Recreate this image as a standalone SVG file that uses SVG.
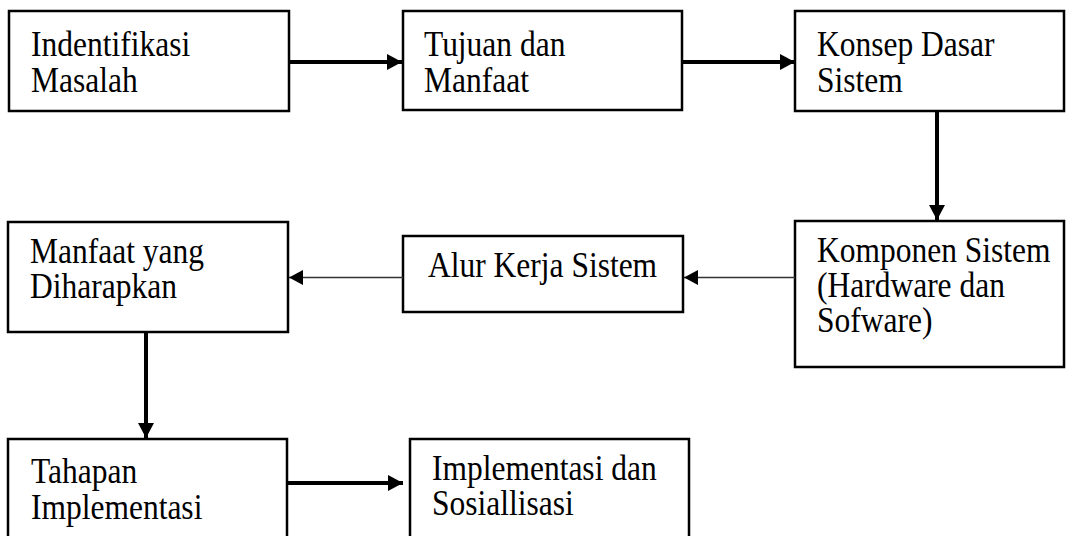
<svg xmlns="http://www.w3.org/2000/svg" width="1069" height="536" viewBox="0 0 1069 536">
<style>
.box{fill:#fff;stroke:#000;stroke-width:2.5}
.t{font-family:"Liberation Serif","Times New Roman",serif;font-size:35px;fill:#000}
.thick{stroke:#000;stroke-width:4;fill:none}
.thin{stroke:#333;stroke-width:1.5;fill:none}
</style>
<defs>
<marker id="ah" markerUnits="userSpaceOnUse" markerWidth="16" markerHeight="16" viewBox="0 0 16 16" refX="15" refY="8" orient="auto">
<path d="M0,0 L15,8 L0,16 Z" fill="#000"/>
</marker>
<marker id="ahs" markerUnits="userSpaceOnUse" markerWidth="15" markerHeight="15" viewBox="0 0 15 15" refX="14" refY="7.5" orient="auto">
<path d="M0,0 L14,7.5 L0,15 Z" fill="#000"/>
</marker>
</defs>
<g id="n1"><rect class="box" x="9" y="11" width="280" height="100"/><text class="t" transform="translate(31,56) scale(0.9,1)">Indentifikasi</text><text class="t" transform="translate(31,92) scale(0.9,1)">Masalah</text></g>
<g id="n2"><rect class="box" x="403" y="11" width="279" height="99"/><text class="t" transform="translate(424,56) scale(0.9,1)">Tujuan dan</text><text class="t" transform="translate(424,92) scale(0.9,1)">Manfaat</text></g>
<g id="n3"><rect class="box" x="795" y="11" width="269" height="100"/><text class="t" transform="translate(817,56) scale(0.9,1)">Konsep Dasar</text><text class="t" transform="translate(817,92) scale(0.9,1)">Sistem</text></g>
<g id="n4"><rect class="box" x="795" y="221" width="269" height="146"/><text class="t" transform="translate(817,262) scale(0.9,1)">Komponen Sistem</text><text class="t" transform="translate(817,297) scale(0.9,1)">(Hardware dan</text><text class="t" transform="translate(817,332) scale(0.9,1)">Sofware)</text></g>
<g id="n5"><rect class="box" x="403" y="236" width="280" height="76"/><text class="t" transform="translate(428,277) scale(0.9,1)">Alur Kerja Sistem</text></g>
<g id="n6"><rect class="box" x="8" y="222" width="280" height="110"/><text class="t" transform="translate(30,263) scale(0.9,1)">Manfaat yang</text><text class="t" transform="translate(30,298) scale(0.9,1)">Diharapkan</text></g>
<g id="n7"><rect class="box" x="8" y="439" width="279" height="110"/><text class="t" transform="translate(31,483) scale(0.9,1)">Tahapan</text><text class="t" transform="translate(31,519) scale(0.9,1)">Implementasi</text></g>
<g id="n8"><rect class="box" x="410" y="439" width="279" height="110"/><text class="t" transform="translate(432,480) scale(0.9,1)">Implementasi dan</text><text class="t" transform="translate(432,515) scale(0.9,1)">Sosiallisasi</text></g>
<g id="connectors">
<line class="thick" x1="290" y1="62" x2="402" y2="62" marker-end="url(#ah)"/>
<line class="thick" x1="683" y1="62" x2="795" y2="62" marker-end="url(#ah)"/>
<line class="thick" x1="937" y1="112" x2="937" y2="220" marker-end="url(#ah)"/>
<line class="thin" x1="795" y1="277.5" x2="684" y2="277.5" marker-end="url(#ahs)"/>
<line class="thin" x1="403" y1="277.5" x2="289" y2="277.5" marker-end="url(#ahs)"/>
<line class="thick" x1="146" y1="333" x2="146" y2="438" marker-end="url(#ah)"/>
<line class="thick" x1="288" y1="483" x2="403" y2="483" marker-end="url(#ah)"/>
</g>
</svg>
